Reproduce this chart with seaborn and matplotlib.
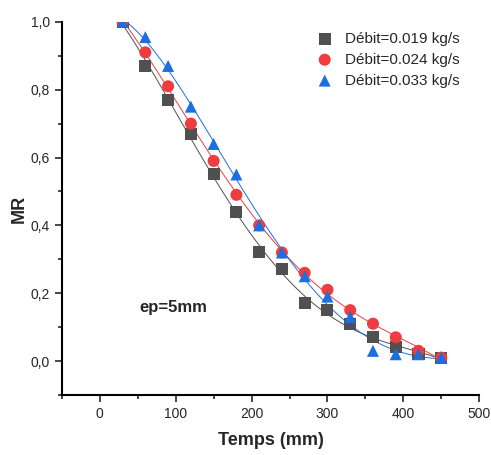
import numpy as np
import pandas as pd
import matplotlib
matplotlib.use("Agg")
import matplotlib.pyplot as plt
from matplotlib.ticker import MultipleLocator, FuncFormatter
import seaborn as sns

# Drying time (min) and moisture ratio for three air flow rates
temps = [30, 60, 90, 120, 150, 180, 210, 240, 270, 300, 330, 360, 390, 420, 450]
mr_019 = [1.00, 0.87, 0.77, 0.67, 0.55, 0.44, 0.32, 0.27, 0.17, 0.15, 0.11, 0.07, 0.04, 0.02, 0.01]
mr_024 = [1.00, 0.91, 0.81, 0.70, 0.59, 0.49, 0.40, 0.32, 0.26, 0.21, 0.15, 0.11, 0.07, 0.03, 0.01]
mr_033 = [1.00, 0.955, 0.87, 0.75, 0.64, 0.55, 0.40, 0.32, 0.25, 0.19, 0.13, 0.03, 0.02, 0.02, 0.01]

labels = ["Débit=0.019 kg/s", "Débit=0.024 kg/s", "Débit=0.033 kg/s"]
colors = ["#505050", "#ef3c40", "#1c6fe0"]
markers = ["s", "o", "^"]

sns.set_theme(style="ticks")
plt.rcParams["font.family"] = ["Liberation Sans", "DejaVu Sans"]

fig = plt.figure(figsize=(4.91, 4.55), dpi=100)
ax = fig.add_axes([0.126, 0.132, 0.85, 0.82])

series = [mr_019, mr_024, mr_033]
for y, lab, c, m in zip(series, labels, colors, markers):
    df = pd.DataFrame({"t": temps, "mr": y})
    # fitted drying curve
    sns.regplot(data=df, x="t", y="mr", order=4, ci=None, scatter=False,
                line_kws=dict(color=c, lw=0.7), ax=ax)
    sns.scatterplot(data=df, x="t", y="mr", marker=m, color=c, s=75,
                    edgecolor="none", label=lab, ax=ax, zorder=3)

ax.set_xlim(-50, 500)
ax.set_ylim(-0.1, 1.0)
ax.xaxis.set_major_locator(MultipleLocator(100))
ax.xaxis.set_minor_locator(MultipleLocator(50))
ax.yaxis.set_major_locator(MultipleLocator(0.2))
ax.yaxis.set_minor_locator(MultipleLocator(0.1))
ax.yaxis.set_major_formatter(FuncFormatter(lambda v, p: f"{v:.1f}".replace(".", ",").replace("-0,0", "0,0")))
ax.tick_params(axis="both", which="major", length=5, width=1.2, labelsize=10, direction="out")
ax.tick_params(axis="both", which="minor", length=3, width=1.2, direction="out")

for s in ["top", "right"]:
    ax.spines[s].set_visible(False)
for s in ["left", "bottom"]:
    ax.spines[s].set_linewidth(1.5)
    ax.spines[s].set_color("black")

ax.set_xlabel("Temps (mm)", fontsize=13, fontweight="bold", labelpad=8)
ax.set_ylabel("MR", fontsize=13, fontweight="bold", labelpad=2)

ax.text(52, 0.145, "ep=5mm", fontsize=12, fontweight="bold")

leg = ax.legend(loc="upper right", bbox_to_anchor=(0.985, 1.01), frameon=False,
                fontsize=11, handletextpad=0.3, labelspacing=0.45, markerscale=1.0)

fig.savefig("out.png", dpi=100)
